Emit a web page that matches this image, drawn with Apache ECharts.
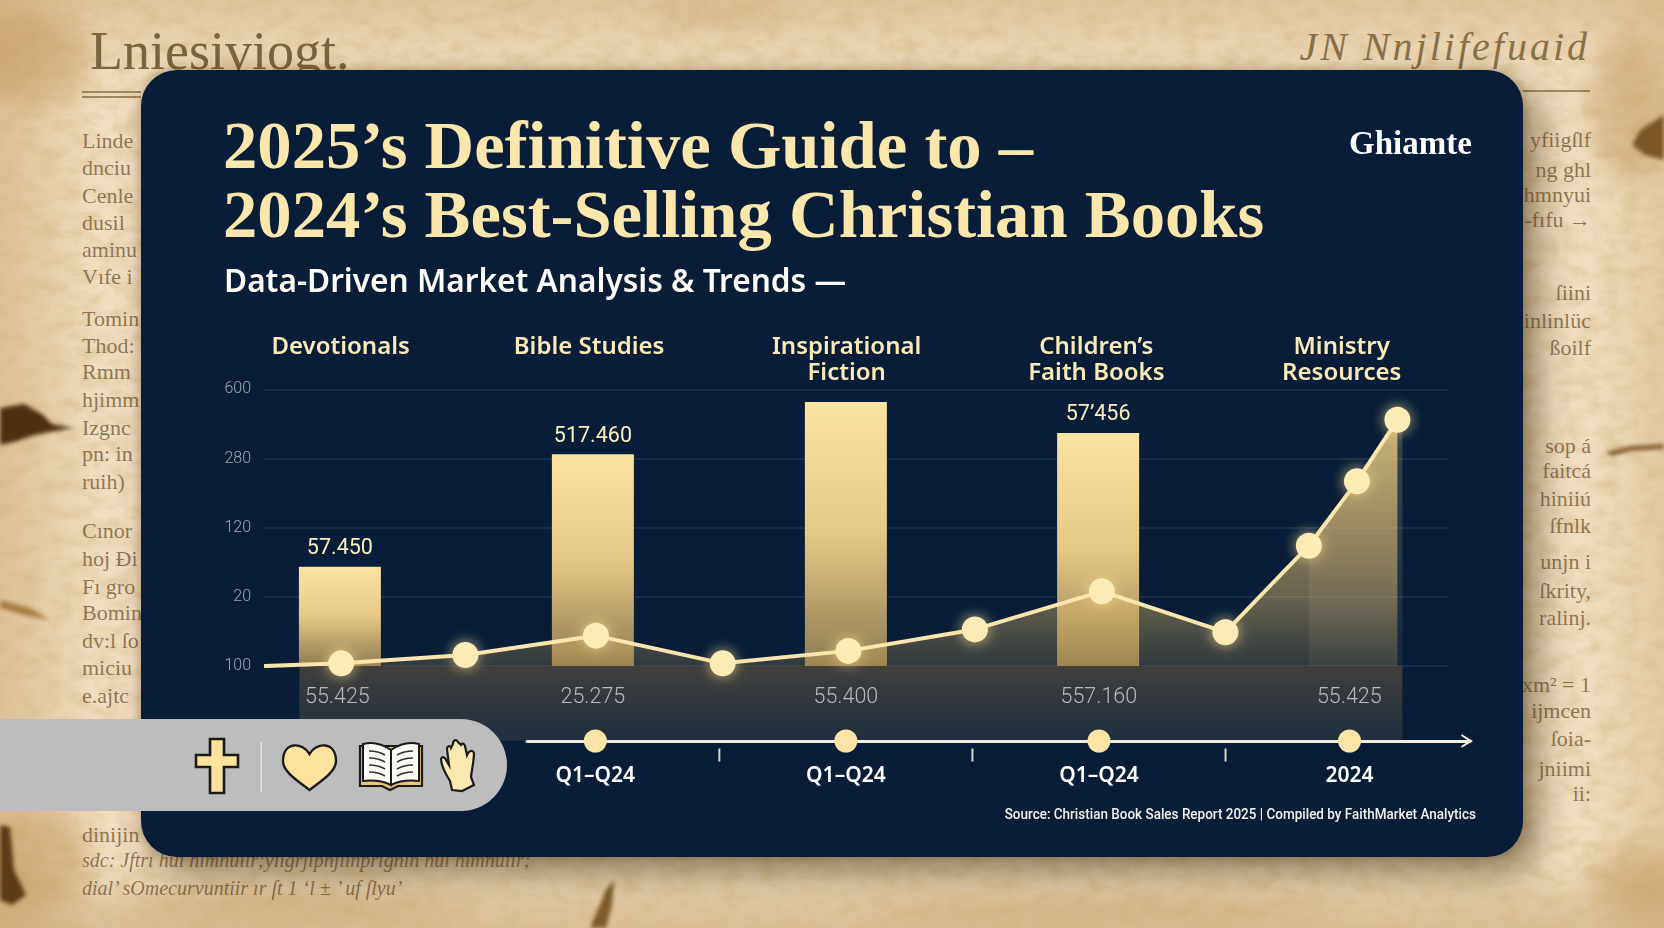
<!DOCTYPE html>
<html><head><meta charset="utf-8">
<style>
html,body{margin:0;padding:0;width:1664px;height:928px;overflow:hidden;background:#e6cda6}
#bg,#main,#tex,#texts{position:absolute;left:0;top:0;width:1664px;height:928px}
#bg{background:
 linear-gradient(90deg,rgba(190,140,80,.36) 0,rgba(190,140,80,.08) 80px,rgba(190,140,80,0) 90px,rgba(190,140,80,0) 1590px,rgba(190,140,80,.24) 1664px),
 linear-gradient(180deg,rgba(180,130,70,.26) 0,rgba(180,130,70,0) 80px,rgba(180,130,70,0) 860px,rgba(170,120,60,.32) 928px),
 #f1debf}
#card{position:absolute;left:141px;top:70px;width:1382px;height:787px;border-radius:36px;background:#071d38;
 box-shadow:14px 16px 34px rgba(70,45,15,.55),0 0 10px rgba(70,45,15,.3)}
#texts span{position:absolute;white-space:nowrap;line-height:1;font-family:"Liberation Serif",serif;color:rgba(92,66,36,.66)}
</style></head>
<body>
<div id="bg"></div>
<svg id="tex" viewBox="0 0 1664 928" xmlns="http://www.w3.org/2000/svg">
 <defs>
  <filter id="fib" x="0" y="0" width="100%" height="100%">
   <feTurbulence type="fractalNoise" baseFrequency="0.05 0.075" numOctaves="5" seed="11"/>
   <feColorMatrix values="0 0 0 0 .66  0 0 0 0 .46  0 0 0 0 .22  1.5 0 0 0 -.56"/>
  </filter>
  <filter id="blo" x="-30%" y="-30%" width="160%" height="160%"><feGaussianBlur stdDeviation="2"/></filter>
  <filter id="blw" x="-30%" y="-30%" width="160%" height="160%"><feGaussianBlur stdDeviation="12"/></filter>
 </defs>
 <rect width="1664" height="928" filter="url(#fib)" opacity=".62"/>
 <g filter="url(#blw)" fill="#b98a4e" opacity=".38">
  <ellipse cx="30" cy="60" rx="60" ry="45"/><ellipse cx="1630" cy="110" rx="40" ry="70"/>
  <ellipse cx="30" cy="860" rx="60" ry="50"/><ellipse cx="1640" cy="880" rx="50" ry="35"/>
  <ellipse cx="720" cy="15" rx="70" ry="8"/><ellipse cx="300" cy="908" rx="170" ry="12"/><ellipse cx="1100" cy="910" rx="240" ry="10"/>
 </g>
 <g filter="url(#blo)">
  <path d="M0 408 L24 404 L42 414 L52 424 L74 428 L50 432 L32 436 L14 442 L0 445Z" fill="#4d2f10"/>
  <path d="M0 825 L10 827 L14 870 L26 895 L12 905 L0 900Z" fill="#5b3a16"/>
  <path d="M1664 115 L1640 130 L1632 145 L1645 155 L1664 160Z" fill="#7b5525"/>
  <path d="M1606 452 L1630 446 L1664 444 L1664 449 L1630 451 L1612 456Z" fill="#80592a"/>
  <path d="M590 928 L606 890 L614 880 L612 905 L606 928Z" fill="#805a2c"/>
  <path d="M0 600 L30 608 L50 620 L28 616 L0 608Z" fill="#a67b42"/>
 </g>
 <path d="M82 92H141M82 97H141M1523 91H1590" stroke="#866b44" stroke-width="1.6" fill="none"/>
</svg>
<div id="texts"></div>
<div id="card"></div>
<div id="main"></div>
<script src="https://cdn.jsdelivr.net/npm/echarts@6/dist/echarts.min.js"></script>
<script>
// ---- chart data ----
const yTickLabels = ['100', '20', '120', '280', '600'];
const categories = ['Devotionals', 'Bible Studies', 'Inspirational\nFiction', "Children\u2019s\nFaith Books", 'Ministry\nResources'];
const categoryLabelX = [0.003, 0.985, 2.003, 2.99, 3.96];
const barX = [0, 1, 2, 2.997];
const barValues = [1.435, 3.06, 3.815, 3.37];
const barTopLabels = ['57.450', '517.460', '', '57\u2019456'];
const lineX = [-0.3, 0.005, 0.496, 1.012, 1.513, 2.01, 2.51, 3.012, 3.5, 3.83, 4.02, 4.18];
const lineValues = [0, 0.04, 0.16, 0.44, 0.04, 0.22, 0.53, 1.08, 0.49, 1.74, 2.67, 3.56];
const stripeX = [3.83, 4.02, 4.18, 4.2];
const stripeValues = [1.74, 2.67, 3.56, 3.42];
const lowerX = [-0.01, 1, 2, 3, 3.99];
const lowerLabels = ['55.425', '25.275', '55.400', '557.160', '55.425'];
const timelineX = [1.01, 2, 3, 3.99];
const timelineLabels = ['Q1\u2013Q24', 'Q1\u2013Q24', 'Q1\u2013Q24', '2024'];
const timelineTicks = [1.5, 2.5, 3.5];
const titleLines = ['2025\u2019s Definitive Guide to \u2013', '2024\u2019s Best-Selling Christian Books'];
const subtitle = 'Data-Driven Market Analysis & Trends \u2014';
const logoText = 'Ghiamte';
const sourceText = 'Source: Christian Book Sales Report 2025 | Compiled by FaithMarket Analytics';
const leftMargin = [['Linde',141],['dnciu',168],['Cenle',196],['dusil',223],['aminu',250],['Vıfe i',277],['Tomin',319],['Thod:',346],['Rmm',372],['hjimm',400],['Izgnc',428],['pn: in',454],['ruih)',482],['Cınor',531],['hoj Ði',559],['Fı gro',587],['Bomin',613],['dv:l ſo',641],['miciu',668],['e.ajtc',696],['dinijin',835]];
const rightMargin = [['yfiigſlf',140],['ng ghl',170],['hmnyui',195],['-fıfu →',220],['ſiini',293],['inlinlüc',321],['ßoilf',348],['sop  á',446],['faitcá',471],['hiniiú',499],['ſfnlk',526],['unjn  i',562],['ſkrity,',591],['ralinj.',618],['xm\u00b2 = 1',685],['ijmcen',711],['ſoia-',739],['jniimi',769],['ii:',794]];
const bottomLines = [['sdc: Jftrı  hui himnuiir;yiıgrjipnjiinprıgnin hui himnuiir;',860],['dial\u2019  sOmecurvuntiir  ır ſt 1 \u2018l ± \u2019 uf ſlyu\u2019',888]];
const headerLeft = 'Lniesiviogt.';
const headerRight = 'JN  Nnjlifefuaid';
// ---- manuscript backdrop text ----
function addText(text, cssText) {
  const s = document.createElement('span'); s.textContent = text; s.style.cssText = cssText;
  document.getElementById('texts').appendChild(s);
}
leftMargin.forEach(([t, y]) => addText(t, `left:82px;top:${y - 11}px;font-size:22px`));
rightMargin.forEach(([t, y]) => addText(t, `right:73px;top:${y - 11}px;font-size:22px`));
bottomLines.forEach(([t, y]) => addText(t, `left:82px;top:${y - 10}px;font-size:20px;font-style:italic`));
addText(headerLeft, 'left:90px;top:24px;font-size:54px;color:#7d643f');
addText(headerRight, 'right:74px;top:27px;font-size:40px;letter-spacing:3px;font-style:italic;color:#8a7049');
// ---- styles ----
const gold = '#fbe6ab', lightGold = '#fae6ad';
const fontSans = '"Noto Sans", sans-serif', fontNum = 'Roboto, sans-serif';
const xScale = {type: 'value', min: -0.3, max: 4.38, show: false};
const iconPaths = [
 ['M210 739H224V755H238V767H224V793H210V767H196V755H210Z', '#fde39b', 2.6],
 ['M309.5 754C303 742 283 741 283 761C283 772 298 781 309.5 790C321 781 336 772 336 761C336 741 316 742 309.5 754Z', '#fde39b', 2.4],
 ['M360 746V786H382L390 790L398 786H422V746Z', '#e8c56f', 2.2],
 ['M391 750C381 743 371 742 363 744V781C373 780 383 781 391 785ZM391 750C401 743 411 742 419 744V781C409 780 399 781 391 785Z', '#fbfbf8', 2],
 ['M369 751C375 751 380 752 385 755M369 758C375 758 380 759 385 762M369 765C375 765 380 766 385 769M369 772C375 772 380 773 385 776M413 751C407 751 402 752 397 755M413 758C407 758 402 759 397 762M413 765C407 765 402 766 397 769M413 772C407 772 402 773 397 776', 'none', 1.5],
 ['M452 790L450 781C445 773 441 764 441 759C442 756 445 757 446 760L449 765L447 749C447 746 450 745 451 748L453 744C453 740 456 739 458 742L461 745C462 743 464 743 465 746L467 755C469 750 473 750 474 753C474 761 472 768 471 777L474 785L462 791Z', '#fbe8b0', 2.2]
];
const chart = echarts.init(document.getElementById('main'), null, {renderer: 'canvas', width: 1664, height: 928});
const textEls = [
 {type: 'text', x: 223, y: 150, style: {text: titleLines[0], fill: gold, font: 'bold 68.7px "Liberation Serif", serif', textVerticalAlign: 'middle'}},
 {type: 'text', x: 223, y: 219, style: {text: titleLines[1], fill: gold, font: 'bold 68.7px "Liberation Serif", serif', textVerticalAlign: 'middle'}},
 {type: 'text', x: 224, y: 283, style: {text: subtitle, fill: '#fdfcf7', font: '600 31.6px "Noto Sans", sans-serif', textVerticalAlign: 'middle'}},
 {type: 'text', x: 1349, y: 145, style: {text: logoText, fill: '#ffffff', font: 'bold 33px "Liberation Serif", serif', textVerticalAlign: 'middle'}},
 {type: 'text', x: 1476, y: 815, scaleX: 0.93, style: {text: sourceText, fill: '#f2f2ee', font: '500 14.5px Roboto, sans-serif', textAlign: 'right', textVerticalAlign: 'middle'}}
];
chart.setOption({
 animation: false,
 backgroundColor: 'transparent',
 grid: [
  {left: 264, width: 1184, top: 389.3, height: 276.8},
  {left: 264, width: 1184, top: 666, height: 75},
  {left: 527, width: 943, top: 730, height: 22},
  {left: 264, width: 1184, top: 320, height: 60}
 ],
 xAxis: [
  {gridIndex: 0, ...xScale},
  {gridIndex: 1, ...xScale},
  {gridIndex: 2, type: 'value', min: 0.74, max: 4.466, z: 4,
   axisLine: {show: true, onZero: true, lineStyle: {color: '#f4efdf', width: 3}, symbol: ['none', 'path://M1 13L9 0L17 13L15 14L9 5L3 14Z'], symbolSize: [16, 12], symbolOffset: [0, -3]},
   axisTick: {show: false}, axisLabel: {show: false}, splitLine: {show: false}},
  {gridIndex: 3, ...xScale}
 ],
 yAxis: [
  {gridIndex: 0, type: 'value', min: 0, max: 4, interval: 1,
   axisLine: {show: false}, axisTick: {show: false},
   splitLine: {show: true, lineStyle: {color: '#1e3450', width: 1.5}},
   axisLabel: {margin: 13, color: '#9ea6af', fontFamily: fontNum, fontSize: 16, fontWeight: 300, padding: [8, 0, 0, 0], formatter: v => yTickLabels[v]}},
  {gridIndex: 1, type: 'value', min: 0, max: 1, inverse: true, show: false},
  {gridIndex: 2, type: 'value', min: -1, max: 1, show: false},
  {gridIndex: 3, type: 'value', min: 0, max: 1, inverse: true, show: false}
 ],
 series: [
  {type: 'bar', xAxisIndex: 1, yAxisIndex: 1, data: [[2.02, 1]], barWidth: 1103, silent: true, z: 1,
   itemStyle: {color: {type: 'linear', x: 0, y: 0, x2: 0, y2: 1, colorStops: [{offset: 0, color: '#413f3c'}, {offset: 1, color: '#1f2e3f'}]}}},
  {type: 'scatter', xAxisIndex: 1, yAxisIndex: 1, symbolSize: 1, silent: true, itemStyle: {color: 'transparent', opacity: 1},
   data: lowerX.map((x, i) => [x, 0.42, lowerLabels[i]]),
   label: {show: true, position: 'inside', formatter: p => p.value[2], color: '#b7babd', fontFamily: fontNum, fontSize: 21.5, fontWeight: 300}},
  {type: 'bar', xAxisIndex: 0, yAxisIndex: 0, barWidth: 82, silent: true, z: 2,
   data: barX.map((x, i) => [x, barValues[i]]),
   itemStyle: {color: {type: 'linear', x: 0, y: 0, x2: 0, y2: 1, colorStops: [{offset: 0, color: '#fbe3a4'}, {offset: 0.5, color: '#e6c886'}, {offset: 1, color: '#8f7a50'}]}},
   label: {show: true, position: 'top', distance: 7, formatter: p => barTopLabels[p.dataIndex], color: '#fbeebf', fontFamily: fontNum, fontSize: 21.5}},
  {type: 'line', xAxisIndex: 0, yAxisIndex: 0, silent: true, z: 3, symbol: 'none', lineStyle: {width: 0},
   data: stripeX.map((x, i) => [x, stripeValues[i]]),
   areaStyle: {origin: 'start', color: {type: 'linear', x: 0, y: 0, x2: 0, y2: 1, colorStops: [{offset: 0, color: 'rgba(250,225,160,.3)'}, {offset: 1, color: 'rgba(250,225,160,.08)'}]}}},
  {type: 'line', xAxisIndex: 0, yAxisIndex: 0, silent: true, z: 4, symbol: 'circle', symbolSize: 26, showAllSymbol: true,
   data: lineX.map((x, i) => ({value: [x, lineValues[i]], symbol: i === 0 ? 'none' : 'circle'})),
   lineStyle: {color: lightGold, width: 4},
   itemStyle: {color: '#fcebb6', shadowBlur: 14, shadowColor: 'rgba(250,220,140,.75)'},
   areaStyle: {origin: 'start', opacity: 1, color: {type: 'linear', x: 0, y: 0, x2: 0, y2: 1, colorStops: [{offset: 0, color: 'rgba(238,205,130,.82)'}, {offset: 0.72, color: 'rgba(226,188,108,.44)'}, {offset: 1, color: 'rgba(215,172,90,.2)'}]}}},
  {type: 'scatter', xAxisIndex: 3, yAxisIndex: 3, symbolSize: 1, silent: true, itemStyle: {color: 'transparent', opacity: 1},
   data: categories.map((c, i) => [categoryLabelX[i], 0.235, c]),
   label: {show: true, position: 'bottom', distance: 0, formatter: p => p.value[2], color: '#fbeab5', fontFamily: fontSans, fontSize: 24, fontWeight: 600, lineHeight: 26, align: 'center'}},
  {type: 'scatter', xAxisIndex: 2, yAxisIndex: 2, silent: true, symbol: 'rect', symbolSize: [2, 13], symbolOffset: [0, 14], itemStyle: {color: '#d9d6c8', opacity: 1},
   data: timelineTicks.map(x => [x, 0])},
  {type: 'scatter', xAxisIndex: 2, yAxisIndex: 2, silent: true, symbol: 'circle', symbolSize: 23, z: 5, itemStyle: {color: '#fbe4a6', opacity: 1},
   data: timelineX.map((x, i) => [x, 0, timelineLabels[i]]),
   label: {show: true, position: 'bottom', distance: 13, formatter: p => p.value[2], color: '#ffffff', fontFamily: fontSans, fontSize: 21, fontWeight: 600}},
  {type: 'custom', coordinateSystem: 'none', silent: true, z: 60, data: [0],
   renderItem: () => ({type: 'group', children: [
     {type: 'rect', shape: {x: -60, y: 719, width: 567, height: 92, r: 46}, style: {fill: '#bdbdbd'}},
     {type: 'rect', shape: {x: 260.5, y: 742, width: 1.4, height: 50}, style: {fill: '#e6e6e6'}},
     ...iconPaths.map(([d, fill, lw]) => ({type: 'path', shape: {pathData: d}, style: {fill, stroke: fill === 'none' ? '#333' : '#1a1a1a', lineWidth: lw}}))
   ]})}
 ],
 graphic: {elements: textEls}
});
</script>
</body></html>
